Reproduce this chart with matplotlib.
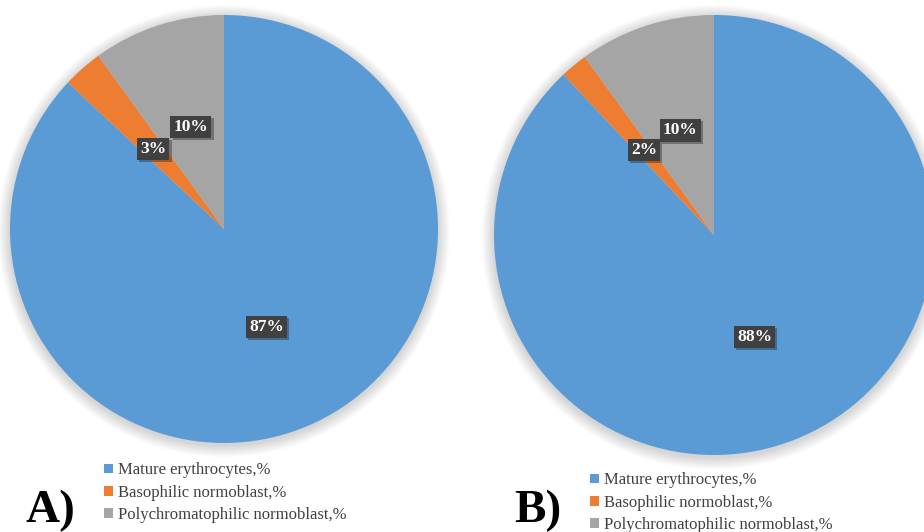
import matplotlib
matplotlib.use("Agg")
import matplotlib.pyplot as plt
import matplotlib.patches as patches
import matplotlib.patheffects as pe

categorias = ["Mature erythrocytes,%", "Basophilic normoblast,%",
              "Polychromatophilic normoblast,%"]
valores_a = [87, 3, 10]
valores_b = [88, 2, 10]
colores = ["#5B9BD5", "#ED7D31", "#A5A5A5"]

SERIF = ["Liberation Serif", "DejaVu Serif"]

fig = plt.figure(figsize=(9.24, 5.32), dpi=100)
W, H = 924, 532


def ejes_pie(cx, cy, r):
    # ejes cuadrados en pixeles centrados en (cx, cy), y hacia abajo
    return fig.add_axes([(cx - r) / W, (H - cy - r) / H, 2 * r / W, 2 * r / H])


def dibujar_pie(ax, valores):
    # sombra difusa alrededor del circulo
    for i in range(14):
        ax.add_patch(patches.Circle((0, -0.01), 1.0 + 0.004 * (14 - i),
                                    color="black", alpha=0.012, lw=0,
                                    zorder=0, clip_on=False))
    wedges, textos, autotextos = ax.pie(
        valores, colors=colores, startangle=90, counterclock=False,
        autopct="%1.0f%%", pctdistance=0.5, radius=1,
        wedgeprops=dict(linewidth=0))
    for t in autotextos:
        t.set_fontfamily(SERIF)
        t.set_fontweight("bold")
        t.set_fontsize(12.5)
        t.set_color("white")
        t.set_bbox(dict(boxstyle="square,pad=0.18", fc="#404040", ec="none"))
        t.get_bbox_patch().set_path_effects(
            [pe.withSimplePatchShadow(offset=(1.5, -1.5), alpha=0.35)])
    ax.set_xlim(-1, 1)
    ax.set_ylim(-1, 1)
    ax.set_aspect("equal")
    ax.axis("off")
    return wedges


ax_a = ejes_pie(224, 229, 214)
wedges_a = dibujar_pie(ax_a, valores_a)
ax_b = ejes_pie(714, 235, 220)
wedges_b = dibujar_pie(ax_b, valores_b)

# leyendas
for wedges, x, y in [(wedges_a, 96 / W, 1 - 454 / H), (wedges_b, 582 / W, 1 - 464 / H)]:
    fig.legend(wedges, categorias, loc="upper left", bbox_to_anchor=(x, y),
               frameon=False, prop=dict(family=SERIF, size=12),
               handlelength=0.5, handleheight=0.5, handletextpad=0.3,
               labelspacing=0.38, borderpad=0, labelcolor="#404040")

fig.text(25 / W, 1 - 522 / H, "A)", fontfamily=SERIF, fontweight="bold",
         fontsize=34, va="baseline", ha="left")
fig.text(514 / W, 1 - 522 / H, "B)", fontfamily=SERIF, fontweight="bold",
         fontsize=34, va="baseline", ha="left")

fig.savefig("out.png", dpi=100)
